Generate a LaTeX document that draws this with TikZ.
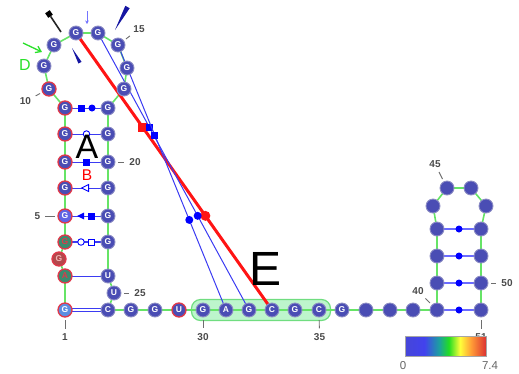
\documentclass[tikz,border=0pt]{standalone}
\usepackage{fontspec}
\setmainfont{Liberation Sans}
\setsansfont{Liberation Sans}
\usetikzlibrary{arrows.meta,backgrounds,fit,shapes.geometric}
\definecolor{ntInk}{HTML}{4A4DB4}
\definecolor{ntRim}{HTML}{8C8CC4}
\definecolor{ntRed}{HTML}{E0384A}
\definecolor{ntPink}{HTML}{F2B4B4}
\definecolor{ntSky}{HTML}{5C8EE2}
\definecolor{ntViolet}{HTML}{5F64E4}
\definecolor{ntTeal}{HTML}{3B8B6F}
\definecolor{ntBrick}{HTML}{B4484C}
\definecolor{bbGreen}{HTML}{66E466}
\definecolor{bpBlue}{HTML}{3B3BF2}
\definecolor{hpBlue}{HTML}{6B6BFF}
\definecolor{lblGray}{HTML}{4A4A4A}
\definecolor{hiFill}{HTML}{BDF5CC}
\definecolor{hiDraw}{HTML}{70DD80}
\definecolor{tertRed}{HTML}{FF1414}
\definecolor{wedgeBlue}{HTML}{1616A2}
\definecolor{hitGreen}{HTML}{2AE02A}
\definecolor{barA}{HTML}{4646D8}
\definecolor{barB}{HTML}{4242EE}
\definecolor{barC}{HTML}{1CA0A0}
\definecolor{barD}{HTML}{22DD22}
\definecolor{barE}{HTML}{FFFF3A}
\definecolor{barF}{HTML}{FF9A36}
\definecolor{barG}{HTML}{DC3232}
\pgfdeclarehorizontalshading{heatbar}{100bp}{color(0bp)=(barA); color(25bp)=(barA);
  color(37bp)=(barB); color(46bp)=(barC); color(52bp)=(barD); color(59bp)=(barE);
  color(66bp)=(barF); color(75bp)=(barG); color(100bp)=(barG)}

\begin{document}
\begin{tikzpicture}[
  x=1pt,y=-1pt,
  every node/.style={outer sep=0pt},
  nt/.style={
    circle,minimum size=14pt,inner sep=0pt,
    fill=ntInk,draw=ntRim,line width=0.9pt,text=white,
    font=\bfseries\fontsize{8.5}{9}\selectfont
  },
  ntr/.style={nt,draw=ntRed,line width=1.3pt},
  ntsky/.style={ntr,fill=ntSky},
  ntviolet/.style={ntr,fill=ntViolet},
  ntteal/.style={ntr,fill=ntTeal,text=ntRed},
  ntbrick/.style={ntr,fill=ntBrick,text=ntPink},
  backbone/.style={draw=bbGreen,line width=1.6pt},
  pairline/.style={draw=bpBlue,line width=1pt},
  hpline/.style={draw=hpBlue,line width=2.2pt},
  lwsq/.style={rectangle,fill=blue,minimum size=7pt,inner sep=0pt},
  lwdot/.style={circle,fill=blue,minimum size=7pt,inner sep=0pt},
  lwring/.style={circle,draw=blue,fill=white,line width=0.9pt,
    minimum size=6.5pt,inner sep=0pt},
  lwbox/.style={rectangle,draw=blue,fill=white,line width=0.9pt,
    minimum size=6pt,inner sep=0pt},
  lwtri/.style={isosceles triangle,shape border rotate=180,
    isosceles triangle stretches,fill=blue,
    minimum height=7pt,minimum width=7pt,inner sep=0pt},
  lwtriopen/.style={lwtri,fill=white,draw=blue,line width=0.9pt},
  tert/.style={draw=bpBlue,line width=1pt},
  tertred/.style={draw=tertRed,line width=3pt},
  hilite/.style={rounded corners=9pt,fill=hiFill,draw=hiDraw,
    line width=1.2pt,inner xsep=4.5pt,inner ysep=3.5pt},
  numlab/.style={text=lblGray,inner sep=1pt,
    font=\bfseries\fontsize{10}{11}\selectfont},
  numtick/.style={draw=lblGray!80,line width=0.9pt,
    shorten <=3pt,shorten >=4pt},
  bigmark/.style={font=\fontsize{34}{36}\selectfont}
]
\path[use as bounding box] (0,0) rectangle (519,373);

% Lettered nucleotides
\foreach \i/\x/\y/\s/\b in {
  1/65/310/ntsky/G, 2/65/276/ntteal/A, 3/59/259/ntbrick/G,
  4/65/242/ntteal/G, 5/65/216/ntviolet/G, 6/65/188/ntr/G,
  7/65/162/ntr/G, 8/65/134/ntr/G, 9/65/108/ntr/G,
  10/49/89/ntr/G, 11/44/66/nt/G, 12/54/45/nt/G,
  13/76/33/nt/G, 14/98/33/nt/G, 15/118/45/nt/G,
  16/127/68/nt/G, 17/124/89/nt/G, 18/108/108/nt/G,
  19/108/134/nt/G, 20/108/162/nt/G, 21/108/188/nt/G,
  22/108/216/nt/G, 23/108/242/nt/G, 24/108/276/nt/U,
  25/114/293/nt/U, 26/108/310/nt/C, 27/131/310/nt/G,
  28/155/310/nt/G, 29/179/310/ntr/U, 30/203/310/nt/G,
  31/226/310/nt/A, 32/249/310/nt/G, 33/272/310/nt/C,
  34/295/310/nt/G, 35/319/310/nt/C, 36/342/310/nt/G
}{
  \node[\s] (n\i) at (\x,\y) {\b};
}

% Blank nucleotides and hairpin
\foreach \i/\x/\y in {
  37/366/310, 38/390/310, 39/413/310, 40/437/310,
  41/437/283, 42/437/256, 43/437/229, 44/433/206,
  45/447/188, 46/471/188, 47/486/206, 48/481/229,
  49/481/256, 50/481/283, 51/481/310
}{
  \node[nt] (n\i) at (\x,\y) {};
}

\begin{scope}[on background layer]
% Highlighted segment
\node[hilite,fit=(n30)(n35)] (motif) {};

% Backbone
\foreach \a [evaluate=\a as \b using int(\a+1)] in {1,...,50}
  \draw[backbone] (n\a.center) -- (n\b.center);

% Stem pairs
\draw[pairline] (n9.center) --
  node[pos=.395,lwsq] {} node[pos=.628,lwdot] {} (n18.center);
\draw[pairline] (n8.center) -- node[lwring] {} (n19.center);
\draw[pairline] (n7.center) -- node[lwsq] {} (n20.center);
\draw[pairline] (n6.center) -- node[lwtriopen] {} (n21.center);
\draw[pairline] (n5.center) --
  node[pos=.395,lwtri] {} node[pos=.616,lwsq] {} (n22.center);
\draw[pairline,line width=2.2pt] (n4.center) --
  node[pos=.372,lwring] {} node[pos=.605,lwbox] {} (n23.center);
\draw[pairline] (n2.center) -- (n24.center);
\draw[pairline,line width=0.8pt,double=white,double distance=1.6pt]
  (n1.center) -- (n26.center);

% Hairpin pairs
\foreach \a/\b in {40/51,41/50,42/49,43/48}
  \draw[hpline] (n\a.center) -- node[lwdot] {} (n\b.center);

% Long-range contacts
\draw[tertred] (n13.center) --
  node[pos=.34,rectangle,fill=tertRed,minimum size=9pt,inner sep=0pt] {}
  node[pos=.66,circle,fill=tertRed,minimum size=10pt,inner sep=0pt] {}
  (n33.center);
\draw[tert] (n14.center) --
  node[pos=.34,lwsq] {} node[pos=.66,lwdot,minimum size=8pt] {}
  (n32.center);
\draw[tert] (n15.center) --
  node[pos=.34,lwsq] {} node[pos=.66,lwdot,minimum size=8pt] {}
  (n31.center);
\end{scope}

% Probing marks round the loop
\node[rectangle,fill=black,minimum size=5.5pt,inner sep=0pt,rotate=35]
  (cutsq) at (49,14) {};
\coordinate (cutend) at (61,32);
\draw[black!85,line width=1.6pt] (cutsq) -- (cutend);

\coordinate (dropA) at (87,11);
\coordinate (dropB) at (87,24);
\draw[-{Stealth[length=3.5pt,width=3.5pt]},draw=blue!55,line width=0.7pt]
  (dropA) -- (dropB);

\fill[wedgeBlue] (115,30) -- (125.3,5.8) -- (129.7,8.2) -- cycle;
\fill[wedgeBlue] (72,48) -- (78.4,63.5) -- (81.6,61.9) -- cycle;

\coordinate (hitA) at (23,43);
\coordinate (hitB) at (42,52);
\draw[-{Straight Barb[length=5pt,width=7pt]},draw=hitGreen,line width=1.3pt]
  (hitA) -- (hitB);

% Region letters
\node[text=hitGreen,font=\fontsize{16}{18}\selectfont] (labD) at (25,65) {D};
\node[bigmark] (labA) at (87,147) {A};
\node[text=red,font=\fontsize{15.5}{17}\selectfont] (labB) at (87,175.5) {B};
\node[bigmark,font=\fontsize{48}{50}\selectfont] (labE) at (266,269) {E};

% Numbering
\foreach \t/\x/\y in {
  1/65/337, 5/37.5/216, 10/25.5/101, 15/139/29,
  20/135/162, 25/140/293, 30/203/337, 35/319.5/337,
  40/418/291, 45/435/164, 50/507/283, 51/481/337
}{
  \node[numlab] (lab\t) at (\x,\y) {\t};
  \draw[numtick] (n\t) -- (lab\t);
}

% Colour scale
\path[shading=heatbar,draw=gray!70] (405,336) rectangle (486,356);
\node[text=gray!80!black,font=\fontsize{11.5}{12}\selectfont] (bar0) at (403,366) {0};
\node[text=gray!80!black,font=\fontsize{11.5}{12}\selectfont] (bar1) at (490,366) {7.4};

\end{tikzpicture}
\end{document}
